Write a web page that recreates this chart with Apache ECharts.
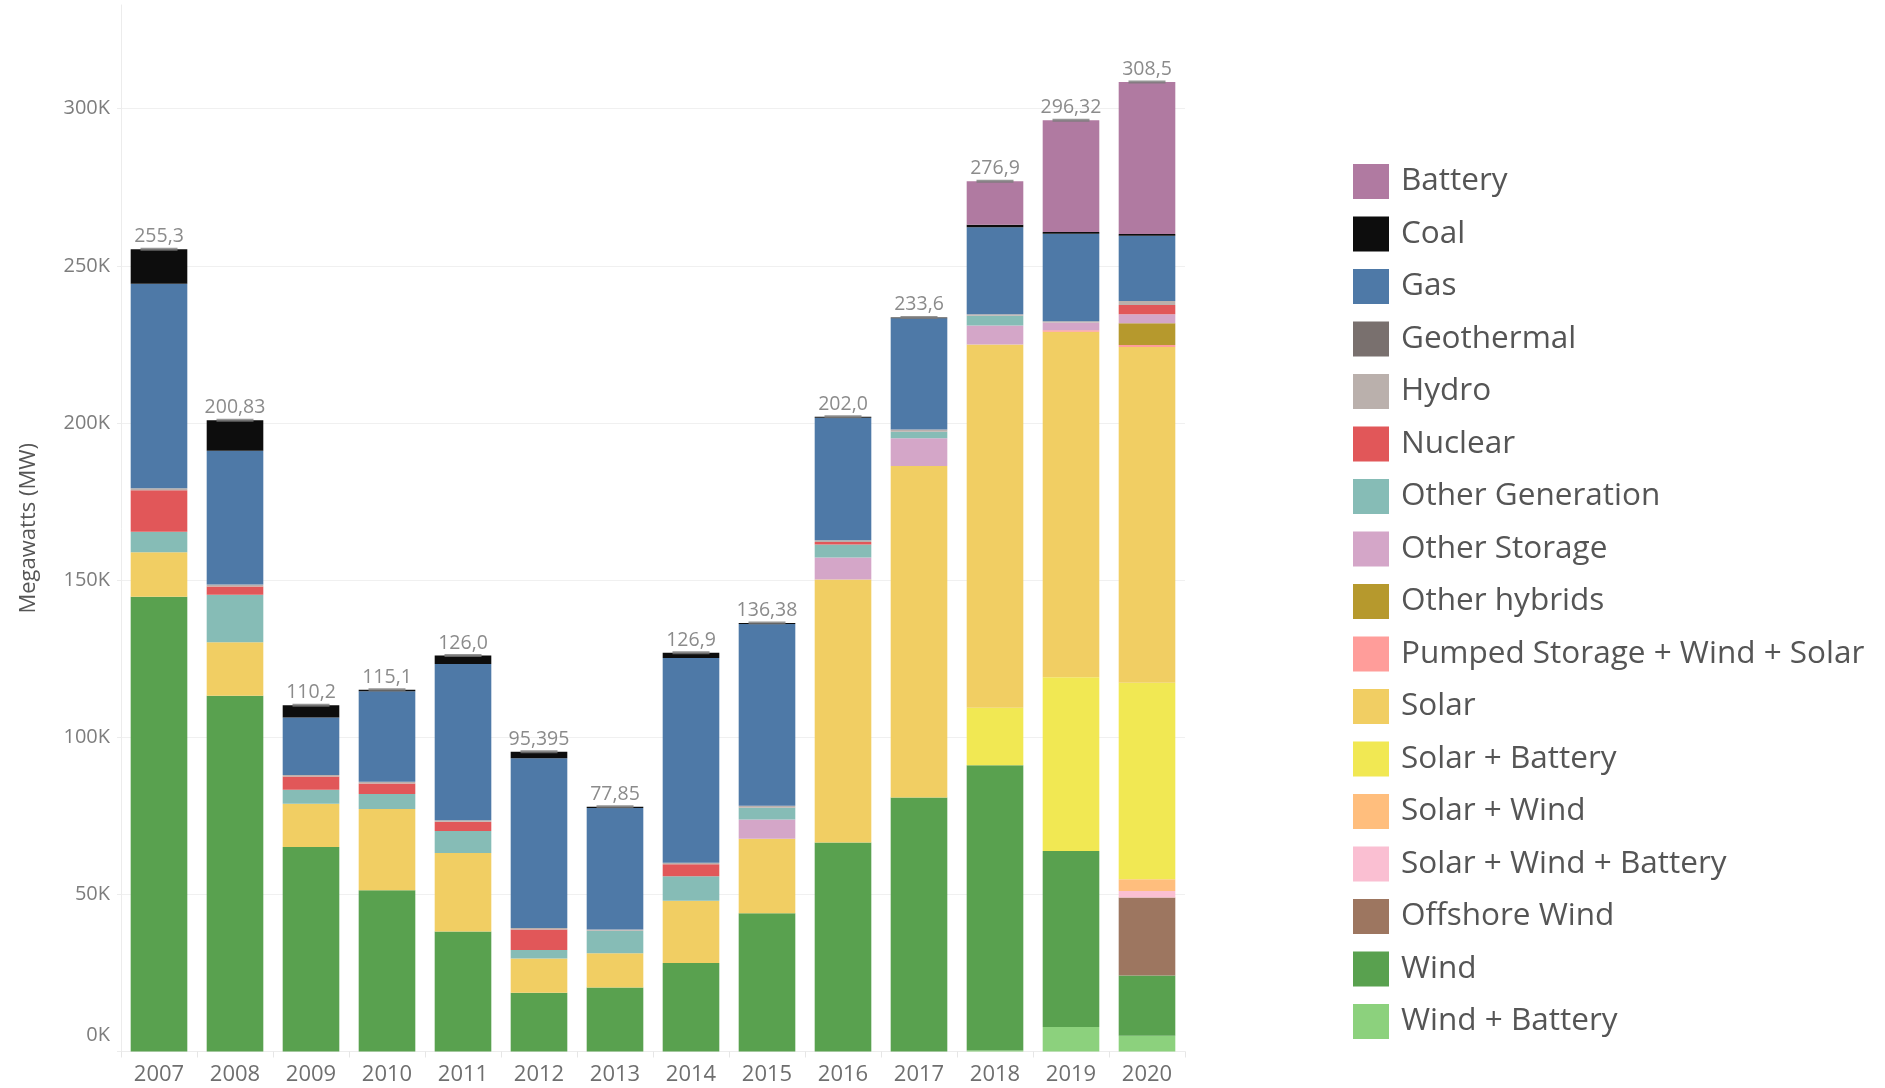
<!DOCTYPE html>
<html>
<head>
<meta charset="utf-8">
<title>Interconnection queue capacity by year</title>
<script src="https://cdn.jsdelivr.net/npm/echarts@6/dist/echarts.min.js"></script>
<style>
  html, body { margin: 0; padding: 0; background: #fff; }
  #chart { width: 1885px; height: 1088px; }
</style>
</head>
<body>
<div id="chart"></div>
<script>
// Capacity per year, in thousands of MW
const years = ['2007', '2008', '2009', '2010', '2011', '2012', '2013', '2014', '2015', '2016', '2017', '2018', '2019', '2020'];

// Text printed above each bar (truncated totals)
const totalLabels = ['255,3', '200,83', '110,2', '115,1', '126,0', '95,395', '77,85', '126,9', '136,38', '202,0', '233,6', '276,9', '296,32', '308,5'];

const battery         = [0, 0, 0, 0, 0, 0, 0, 0, 0, 0, 0, 13.8, 35.52, 48.4];
const coal            = [11.0, 9.63, 3.9, 0.5, 2.7, 2.095, 0.35, 1.7, 0.38, 0.3, 0.3, 0.8, 0.6, 0.5];
const gas             = [65.1, 42.6, 18.3, 28.8, 49.7, 54.0, 38.7, 65.1, 57.8, 39.0, 35.4, 27.7, 27.8, 20.8];
const geothermal      = [0, 0, 0, 0, 0, 0, 0, 0, 0, 0, 0, 0, 0, 0];
const hydro           = [0.6, 0.6, 0.5, 0.5, 0.5, 0.5, 0.4, 0.5, 0.6, 0.6, 0.7, 0.5, 0.4, 1.3];
const nuclear         = [13.2, 2.7, 4.2, 3.4, 2.9, 6.5, 0, 3.8, 0, 0.8, 0, 0, 0, 2.9];
const otherGeneration = [6.5, 15.1, 4.5, 4.7, 7.0, 2.7, 7.1, 7.8, 3.8, 4.1, 2.1, 3.1, 0, 0];
const otherStorage    = [0, 0, 0, 0, 0, 0, 0, 0, 6.1, 7.0, 8.8, 6.0, 2.5, 2.9];
const otherHybrids    = [0, 0, 0, 0, 0, 0, 0, 0, 0, 0, 0, 0, 0, 6.9];
const pumpedWindSolar = [0, 0, 0, 0, 0, 0, 0, 0, 0, 0, 0, 0, 0.5, 0.6];
const solar           = [14.2, 17.0, 13.7, 25.9, 25.0, 10.9, 10.9, 19.8, 23.7, 83.7, 105.5, 115.6, 109.9, 106.9];
const solarBattery    = [0, 0, 0, 0, 0, 0, 0, 0, 0, 0, 0, 18.3, 55.3, 62.5];
const solarWind       = [0, 0, 0, 0, 0, 0, 0, 0, 0, 0, 0, 0, 0, 3.7];
const solarWindBatt   = [0, 0, 0, 0, 0, 0, 0, 0, 0, 0, 0, 0, 0, 2.1];
const offshoreWind    = [0, 0, 0, 0, 0, 0, 0, 0, 0, 0, 0, 0, 0, 24.8];
const wind            = [144.7, 113.2, 65.1, 51.3, 38.2, 18.7, 20.4, 28.2, 44.0, 66.5, 80.8, 90.8, 56.0, 19.2];
const windBattery     = [0, 0, 0, 0, 0, 0, 0, 0, 0, 0, 0, 0.3, 7.8, 5.0];

// Stack order, bottom to top
const layers = [
  { name: 'Wind + Battery', data: windBattery, color: '#8cd17d' },
  { name: 'Wind', data: wind, color: '#59a14f' },
  { name: 'Offshore Wind', data: offshoreWind, color: '#9d7660' },
  { name: 'Solar + Wind + Battery', data: solarWindBatt, color: '#fabfd2' },
  { name: 'Solar + Wind', data: solarWind, color: '#ffbe7d' },
  { name: 'Solar + Battery', data: solarBattery, color: '#f1e853' },
  { name: 'Solar', data: solar, color: '#f1ce63' },
  { name: 'Pumped Storage + Wind + Solar', data: pumpedWindSolar, color: '#ff9d9a' },
  { name: 'Other hybrids', data: otherHybrids, color: '#b6992d' },
  { name: 'Other Storage', data: otherStorage, color: '#d4a6c8' },
  { name: 'Other Generation', data: otherGeneration, color: '#86bcb6' },
  { name: 'Nuclear', data: nuclear, color: '#e15759' },
  { name: 'Hydro', data: hydro, color: '#bab0ac' },
  { name: 'Geothermal', data: geothermal, color: '#79706e' },
  { name: 'Gas', data: gas, color: '#4e79a7' },
  { name: 'Coal', data: coal, color: '#0d0d0d' },
  { name: 'Battery', data: battery, color: '#b07aa1' }
];

const legendOrder = layers.map(l => l.name).reverse();

const totals = years.map((_, i) => layers.reduce((s, l) => s + l.data[i], 0));

const fontFamily = '"Open Sans", "Noto Sans", sans-serif';

const barSeries = layers.map(l => ({
  name: l.name,
  type: 'bar',
  stack: 'capacity',
  barCategoryGap: '25.5%',
  data: l.data,
  itemStyle: { color: l.color },
  emphasis: { disabled: true }
}));

const totalSeries = {
  name: 'Total',
  type: 'scatter',
  data: totals,
  symbol: 'rect',
  symbolSize: [37, 3],
  z: 5,
  itemStyle: { color: '#7b7b7b' },
  label: {
    show: true,
    position: 'top',
    distance: 1,
    fontFamily: fontFamily,
    fontSize: 19.5,
    color: '#6e6e6e',
    formatter: p => totalLabels[p.dataIndex]
  },
  emphasis: { disabled: true }
};

const chart = echarts.init(document.getElementById('chart'));
chart.setOption({
  animation: false,
  backgroundColor: '#ffffff',
  textStyle: { fontFamily: fontFamily },
  grid: { left: 121, right: 700, top: 5, bottom: 36.5, containLabel: false },
  legend: {
    orient: 'vertical',
    left: 1348,
    top: 159,
    itemWidth: 36,
    itemHeight: 35,
    itemGap: 17.5,
    icon: 'rect',
    selectedMode: false,
    data: legendOrder,
    textStyle: {
      fontFamily: fontFamily,
      fontSize: 31.5,
      color: '#555555',
      lineHeight: 35,
      padding: [0, 0, 0, 7]
    }
  },
  xAxis: {
    type: 'category',
    data: years,
    boundaryGap: true,
    axisLine: { show: true, lineStyle: { color: '#ececec' } },
    axisTick: { show: true, length: 6, lineStyle: { color: '#e6e6e6' } },
    axisLabel: { fontFamily: fontFamily, fontSize: 22, color: '#6f6f6f', margin: 12 }
  },
  yAxis: {
    type: 'value',
    min: 0,
    max: 333,
    interval: 50,
    name: 'Megawatts (MW)',
    nameLocation: 'middle',
    nameRotate: 90,
    nameGap: 81,
    nameTextStyle: { fontFamily: fontFamily, fontSize: 22, color: '#555555' },
    axisLine: { show: true, lineStyle: { color: '#ececec' } },
    axisTick: { show: true, length: 4, lineStyle: { color: '#ececec' } },
    axisLabel: {
      fontFamily: fontFamily,
      fontSize: 20,
      color: '#7d7d7d',
      margin: 11,
      showMaxLabel: false,
      verticalAlignMinLabel: 'bottom',
      formatter: v => (v === 0 ? '{low|0K}' : v + 'K'),
      rich: {
        low: { fontFamily: fontFamily, fontSize: 20, color: '#7d7d7d', padding: [0, 0, 6, 0] }
      }
    },
    splitLine: { show: true, showMaxLine: false, lineStyle: { color: '#f0f0f0', width: 1 } }
  },
  series: [...barSeries, totalSeries]
});
</script>
</body>
</html>
